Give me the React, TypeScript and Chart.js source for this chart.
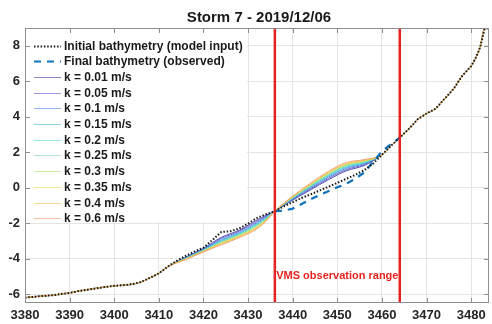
import React, { useEffect, useRef } from 'react';
import { Chart, registerables } from 'chart.js';

Chart.register(...registerables);

const TITLE = 'Storm 7 - 2019/12/06';
const X_MIN = 3380;
const X_MAX = 3484;
const Y_MIN = -6.5;
const Y_MAX = 9;
const xTicks = [3380, 3390, 3400, 3410, 3420, 3430, 3440, 3450, 3460, 3470, 3480];
const yTicks = [-6, -4, -2, 0, 2, 4, 6, 8];

const initialLabel = 'Initial bathymetry (model input)';
const initialX = [3380, 3382, 3384, 3386, 3388, 3390, 3392, 3394, 3396, 3398, 3400, 3402, 3404, 3406, 3408, 3410, 3412, 3414, 3416, 3418, 3420, 3422, 3424, 3426, 3428, 3430, 3432, 3434, 3436, 3438, 3440, 3442, 3444, 3446, 3448, 3450, 3452, 3454, 3456, 3458, 3460, 3462, 3464, 3466, 3468, 3470, 3472, 3474, 3476, 3478, 3480, 3481, 3482, 3483, 3484];
const initialY = [-6.2, -6.15, -6.1, -6.07, -6.0, -5.93, -5.83, -5.75, -5.67, -5.6, -5.53, -5.5, -5.44, -5.32, -5.08, -4.83, -4.45, -4.12, -3.85, -3.6, -3.38, -2.95, -2.5, -2.46, -2.3, -2.02, -1.7, -1.5, -1.32, -1.05, -0.82, -0.58, -0.38, -0.16, 0.05, 0.27, 0.5, 0.72, 0.98, 1.35, 1.85, 2.35, 2.82, 3.3, 3.85, 4.18, 4.45, 5.0, 5.55, 6.3, 6.85, 7.3, 7.9, 8.95, 9.0];

const finalLabel = 'Final bathymetry (observed)';
const finalX = [3436, 3438, 3440, 3442, 3444, 3446, 3448, 3450, 3452, 3454, 3456, 3458, 3460, 3462, 3464];
const finalY = [-1.32, -1.3, -1.18, -0.92, -0.65, -0.42, -0.2, 0.02, 0.22, 0.5, 0.85, 1.45, 2.05, 2.45, 2.82];

const kLabels = ['k = 0.01 m/s', 'k = 0.05 m/s', 'k = 0.1 m/s', 'k = 0.15 m/s', 'k = 0.2 m/s', 'k = 0.25 m/s', 'k = 0.3 m/s', 'k = 0.35 m/s', 'k = 0.4 m/s', 'k = 0.6 m/s'];
const kColors = ['#3a3a9e', '#6252cf', '#4a86e0', '#38b6d8', '#48d6d0', '#7ed8a8', '#b0df72', '#e6dc50', '#f0c050', '#f09a6a'];
const kX = [3412, 3416, 3420, 3424, 3428, 3432, 3434, 3436, 3440, 3444, 3448, 3452, 3456, 3460];
const k001 = [-4.45, -3.92, -3.42, -2.8, -2.4, -1.82, -1.56, -1.32, -0.7, -0.12, 0.45, 0.95, 1.25, 1.85];
const k005 = [-4.45, -3.94, -3.45, -2.86, -2.46, -1.9, -1.61, -1.32, -0.67, -0.06, 0.52, 1.02, 1.3, 1.85];
const k010 = [-4.45, -3.96, -3.48, -2.93, -2.53, -1.97, -1.66, -1.32, -0.63, -0.01, 0.59, 1.09, 1.35, 1.85];
const k015 = [-4.45, -3.98, -3.5, -2.98, -2.58, -2.03, -1.7, -1.32, -0.61, 0.04, 0.65, 1.15, 1.39, 1.85];
const k020 = [-4.45, -3.99, -3.53, -3.02, -2.62, -2.09, -1.74, -1.32, -0.58, 0.08, 0.7, 1.2, 1.42, 1.85];
const k025 = [-4.45, -4.01, -3.55, -3.06, -2.66, -2.14, -1.77, -1.32, -0.56, 0.12, 0.75, 1.25, 1.46, 1.85];
const k030 = [-4.45, -4.02, -3.56, -3.1, -2.7, -2.18, -1.8, -1.32, -0.54, 0.15, 0.79, 1.29, 1.49, 1.85];
const k035 = [-4.45, -4.03, -3.58, -3.14, -2.74, -2.22, -1.83, -1.32, -0.52, 0.18, 0.83, 1.33, 1.51, 1.85];
const k040 = [-4.45, -4.04, -3.59, -3.17, -2.77, -2.26, -1.86, -1.32, -0.51, 0.21, 0.86, 1.36, 1.54, 1.85];
const k060 = [-4.45, -4.06, -3.62, -3.22, -2.82, -2.32, -1.9, -1.32, -0.48, 0.26, 0.92, 1.42, 1.58, 1.85];
const kValues = [k001, k005, k010, k015, k020, k025, k030, k035, k040, k060];

const rangeX = [3436, 3464];
const rangeLabel = 'VMS observation range';
const rangeLabelY = -4.95;

const FONT = '"Liberation Sans", Arial, Helvetica, sans-serif';
const RED = '#e52421';
const BLUE = '#0f72b8';

function kSeries(vals: number[]) {
  const pts: { x: number; y: number }[] = [];
  initialX.forEach((x, i) => { if (x < kX[0]) pts.push({ x, y: initialY[i] }); });
  kX.forEach((x, i) => pts.push({ x, y: vals[i] }));
  initialX.forEach((x, i) => { if (x > kX[kX.length - 1]) pts.push({ x, y: initialY[i] }); });
  return pts;
}

const decor = {
  id: 'decor',
  afterDatasetsDraw(chart: any) {
    const { ctx, chartArea: a, scales } = chart;
    const xs = scales.x;
    const ys = scales.y;
    ctx.save();
    // legend background
    ctx.fillStyle = '#ffffff';
    ctx.fillRect(a.left + 2, a.top + 2, 220, 192);
    // legend items
    const items: { label: string; color: string; dash: number[]; width: number; alpha: number }[] = [
      { label: initialLabel, color: '#1a1a1a', dash: [1.5, 1.8], width: 2, alpha: 1 },
      { label: finalLabel, color: BLUE, dash: [7, 6], width: 2.2, alpha: 1 },
      ...kLabels.map((l, i) => ({ label: l, color: kColors[i], dash: [], width: 1, alpha: 0.6 })),
    ];
    const y0 = a.top + 17.5;
    const step = 15.7;
    items.forEach((it, i) => {
      const yy = Math.round(y0 + i * step) + 0.5;
      ctx.beginPath();
      ctx.globalAlpha = it.alpha;
      ctx.setLineDash(it.dash);
      ctx.strokeStyle = it.color;
      ctx.lineWidth = it.width;
      ctx.moveTo(34, yy);
      ctx.lineTo(61, yy);
      ctx.stroke();
      ctx.globalAlpha = 1;
      ctx.setLineDash([]);
      ctx.fillStyle = '#1a1a1a';
      ctx.font = `bold 12px ${FONT}`;
      ctx.textAlign = 'left';
      ctx.textBaseline = 'middle';
      ctx.fillText(it.label, 64, yy);
    });
    // axes box
    ctx.setLineDash([]);
    ctx.strokeStyle = '#8f8f8f';
    ctx.lineWidth = 1;
    ctx.strokeRect(a.left + 0.5, a.top + 0.5, a.right - a.left - 1, a.bottom - a.top - 1);
    // inward ticks
    ctx.beginPath();
    xTicks.forEach((v) => {
      const px = Math.round(xs.getPixelForValue(v)) + 0.5;
      ctx.moveTo(px, a.bottom);
      ctx.lineTo(px, a.bottom - 5);
      ctx.moveTo(px, a.top);
      ctx.lineTo(px, a.top + 5);
    });
    yTicks.forEach((v) => {
      const py = Math.round(ys.getPixelForValue(v)) + 0.5;
      ctx.moveTo(a.left, py);
      ctx.lineTo(a.left + 5, py);
      ctx.moveTo(a.right, py);
      ctx.lineTo(a.right - 5, py);
    });
    ctx.stroke();
    // range label
    ctx.fillStyle = RED;
    ctx.font = `bold 11px ${FONT}`;
    ctx.textAlign = 'center';
    ctx.textBaseline = 'middle';
    const cx = (xs.getPixelForValue(rangeX[0]) + xs.getPixelForValue(rangeX[1])) / 2;
    ctx.fillText(rangeLabel, cx, ys.getPixelForValue(rangeLabelY));
    // title
    ctx.fillStyle = '#1a1a1a';
    ctx.font = `bold 15px ${FONT}`;
    ctx.textAlign = 'center';
    ctx.textBaseline = 'middle';
    ctx.fillText(TITLE, (a.left + a.right) / 2 + 2, 17.5);
    ctx.restore();
  },
};

export default function App() {
  const ref = useRef<HTMLCanvasElement | null>(null);
  useEffect(() => {
    if (!ref.current) return;
    const datasets: any[] = [
      {
        label: initialLabel,
        data: initialX.map((x, i) => ({ x, y: initialY[i] })),
        borderColor: '#1a1a1a',
        borderWidth: 2,
        borderDash: [1.5, 1.8],
        pointRadius: 0,
        order: 0,
      },
      {
        label: finalLabel,
        data: finalX.map((x, i) => ({ x, y: finalY[i] })),
        borderColor: BLUE,
        borderWidth: 2.2,
        borderDash: [7, 6],
        pointRadius: 0,
        order: 1,
      },
      ...kValues.map((vals, i) => ({
        label: kLabels[i],
        data: kSeries(vals),
        borderColor: kColors[i],
        borderWidth: 0.9,
        pointRadius: 0,
        cubicInterpolationMode: 'monotone',
        order: 11 - i,
      })),
      ...rangeX.map((rx) => ({
        label: rangeLabel,
        data: [{ x: rx, y: Y_MIN }, { x: rx, y: Y_MAX }],
        borderColor: RED,
        borderWidth: 2.5,
        pointRadius: 0,
        order: -1,
      })),
    ];
    const chart = new Chart(ref.current, {
      type: 'line',
      data: { datasets },
      options: {
        animation: false,
        responsive: false,
        devicePixelRatio: 1,
        layout: { padding: { left: 0, right: 3, top: 28, bottom: 0 } },
        plugins: { legend: { display: false }, title: { display: false }, tooltip: { enabled: false } },
        scales: {
          x: {
            type: 'linear',
            min: X_MIN,
            max: X_MAX,
            afterBuildTicks: (s: any) => { s.ticks = xTicks.map((v) => ({ value: v })); },
            afterFit: (s: any) => { s.height = 21; },
            grid: { color: '#e4e4e4', drawTicks: false },
            border: { display: false },
            ticks: {
              padding: 5,
              color: '#262626',
              font: { family: FONT, size: 13, weight: 'bold' },
              maxRotation: 0,
              autoSkip: false,
              callback: (v: any) => String(v),
            },
          },
          y: {
            type: 'linear',
            min: Y_MIN,
            max: Y_MAX,
            afterBuildTicks: (s: any) => { s.ticks = yTicks.map((v) => ({ value: v })); },
            afterFit: (s: any) => { s.width = 25; },
            grid: { color: '#e4e4e4', drawTicks: false },
            border: { display: false },
            ticks: {
              padding: 5,
              color: '#262626',
              font: { family: FONT, size: 13, weight: 'bold' },
              callback: (v: any) => String(v),
            },
          },
        },
      },
      plugins: [decor],
    } as any);
    return () => chart.destroy();
  }, []);
  return (
    <div style={{ position: 'absolute', left: 0, top: 0, width: 492, height: 324, background: '#fff' }}>
      <canvas ref={ref} width={492} height={324} />
    </div>
  );
}
